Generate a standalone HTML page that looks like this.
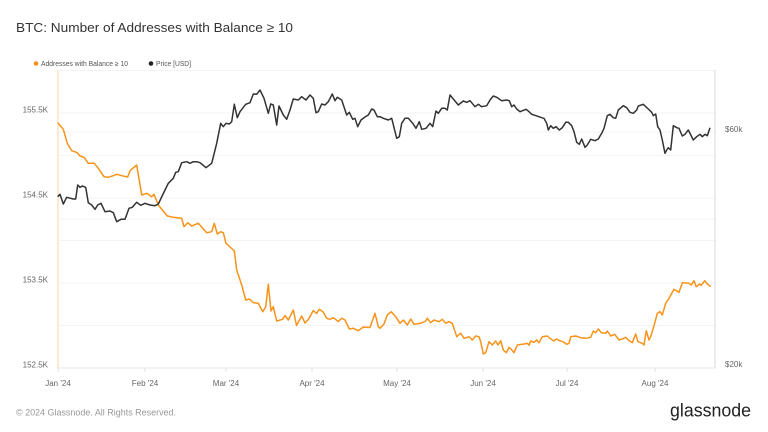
<!DOCTYPE html>
<html><head><meta charset="utf-8"><style>
html,body{margin:0;padding:0;background:#fff;}
svg{display:block;}
text{font-family:"Liberation Sans",sans-serif;}
</style></head><body>
<svg width="768" height="432" viewBox="0 0 768 432" xmlns="http://www.w3.org/2000/svg">
<rect width="768" height="432" fill="#fff"/>
<text x="16" y="32" font-size="13" fill="#333" textLength="277" lengthAdjust="spacingAndGlyphs">BTC: Number of Addresses with Balance ≥ 10</text>
<circle cx="36" cy="63.5" r="2.3" fill="#f7931a"/>
<text x="41" y="66" font-size="7" fill="#555" textLength="87" lengthAdjust="spacingAndGlyphs">Addresses with Balance ≥ 10</text>
<circle cx="151" cy="63.5" r="2.3" fill="#222"/>
<text x="156" y="66" font-size="7" fill="#555" textLength="35" lengthAdjust="spacingAndGlyphs">Price [USD]</text>
<g stroke="#f3f3f3" stroke-width="1">
<line x1="58" y1="70.5" x2="715" y2="70.5"/>
<line x1="58" y1="113" x2="715" y2="113"/>
<line x1="58" y1="155.5" x2="715" y2="155.5"/>
<line x1="58" y1="198" x2="715" y2="198"/>
<line x1="58" y1="240.5" x2="715" y2="240.5"/>
<line x1="58" y1="283" x2="715" y2="283"/>
<line x1="58" y1="325.5" x2="715" y2="325.5"/>
<line x1="58" y1="132" x2="715" y2="132"/>
<line x1="58" y1="219" x2="715" y2="219"/>
</g>
<line x1="58" y1="368" x2="715" y2="368" stroke="#e6e6e6" stroke-width="1"/>
<line x1="58" y1="70" x2="58" y2="368" stroke="#fde3c4" stroke-width="1.5"/>
<line x1="715" y1="70" x2="715" y2="368" stroke="#d8d8d8" stroke-width="1"/>
<g stroke="#e0e0e0" stroke-width="1">
<line x1="58" y1="368" x2="58" y2="372"/>
<line x1="145" y1="368" x2="145" y2="372"/>
<line x1="226" y1="368" x2="226" y2="372"/>
<line x1="312" y1="368" x2="312" y2="372"/>
<line x1="397" y1="368" x2="397" y2="372"/>
<line x1="483" y1="368" x2="483" y2="372"/>
<line x1="567" y1="368" x2="567" y2="372"/>
<line x1="655" y1="368" x2="655" y2="372"/>
</g>
<g font-size="8" fill="#666" text-anchor="end">
<text x="48" y="112.5">155.5K</text>
<text x="48" y="197.5">154.5K</text>
<text x="48" y="282.5">153.5K</text>
<text x="48" y="367.5">152.5K</text>
</g>
<g font-size="8" fill="#666">
<text x="725" y="132">$60k</text>
<text x="725" y="367">$20k</text>
</g>
<g font-size="8" fill="#666" text-anchor="middle">
<text x="58" y="386">Jan '24</text>
<text x="145" y="386">Feb '24</text>
<text x="226" y="386">Mar '24</text>
<text x="312" y="386">Apr '24</text>
<text x="397" y="386">May '24</text>
<text x="483" y="386">Jun '24</text>
<text x="567" y="386">Jul '24</text>
<text x="655" y="386">Aug '24</text>
</g>
<polyline fill="none" stroke="#f7931a" stroke-width="1.5" stroke-linejoin="round" points="57.7,122.7 63.3,129.3 67.3,143.3 71.7,150.7 77.3,152.7 80,156 84,157.3 88.3,163.3 94.3,163.3 98.3,168.3 104,176.7 108.3,177.3 113.3,175.7 116.7,174.3 121.7,175.7 127.7,177 130,170.7 136.7,165 141.7,195 146.7,193.3 151.7,196.7 154,194.3 158.3,205 167.3,216 173.3,217.3 181.7,218.3 184,226.7 187.7,222.7 191.7,226 198.3,223.3 206.7,232.7 211.7,231.7 214.3,223.3 217.3,234 220.7,231.7 223.3,232.7 226,243.3 233.3,250 234.3,250.7 236.7,270 241.7,285 245.7,300 249.3,299 253.3,302.7 258.3,303.3 262.7,311.7 265.7,306.7 268.3,284.3 271,311 273.3,306.7 276.7,321 282.7,319.3 285,315.5 288.3,320 293.3,310 296.5,325.5 301.7,316 305,323 308.3,319.5 313.3,310.5 316.5,313.5 319.3,309.3 323,311.7 326.7,318.3 330,319.3 333.3,317.7 338.3,321.5 341.7,318.3 345,320 349.3,329 353.3,328.3 358.3,330.7 363.3,327 370,327.5 375,313.3 378.3,326.7 380,328.3 384,324 387.3,315 391.3,311.7 395.7,316.7 400,323.3 403.3,320 407.3,325 410.7,319 414,324.3 420.7,323.3 425.7,321 427.3,318.3 430.7,322.7 434,320 439,321.7 442.3,319.3 445.7,323.3 449,321.7 452.3,323.3 456.7,336.7 460.7,333.3 464,338.3 469,336.7 472.3,340 475.7,336 479,336.7 480.7,341.7 483.3,354 485.7,352.7 489,341.7 492.3,345 495.7,341 498,345 500.7,340.7 503.3,350 506.3,352.7 509,347.3 511.3,349.3 514,352.7 517.3,345 524,344 527.3,343.3 529,345.3 530.7,341 534,342.3 536.7,340 539,342.7 542.3,336.7 547.3,336 550.7,339 554,341 556.3,339 559.7,340.7 563,341.7 566.7,344.3 569,343.3 570.7,336.7 575.7,336 580.7,337.7 585.7,338.3 590.7,337.3 593.3,331 595.7,332.7 598.3,329 601.3,332.7 605.7,333.3 607.3,331 610.7,336 614.7,334.3 619,340 622.3,339 625.7,337.3 628.3,340 632.3,342.7 635.7,334 638,341.7 642.3,343.3 644,345 646.3,330.7 649,340 650.7,336.7 654.7,323.3 657.3,313.3 660,311.7 662.3,315 665.7,303.3 669,298.3 674,289.3 679,292.3 682.3,282.7 689,283.3 691.3,285 694,280.7 696.3,286.7 699.7,284 701.3,285.3 704.7,280.7 707.3,284 710.7,286.7"/>
<polyline fill="none" stroke="#333" stroke-width="1.5" stroke-linejoin="round" points="57.7,196.7 60,194.3 63.3,204 66.7,197.3 73.3,199 75.7,199 77.7,185 80,187.3 82.3,186 85.7,187.3 88.3,202.7 91.7,205 95,209.3 97.7,205 101,203.3 105,211.7 110,211 113.3,212.7 116.7,221.7 121,219.3 125,219.3 129,208.3 132.3,207.3 136.7,202.3 140.7,205.3 145,203.3 150,205 155,205.7 158.3,204 165,190 168.3,183.3 173.3,178.3 175.7,172.3 178.3,171.7 181.7,162.7 186.7,161.7 190,163.3 193.3,161.7 196.7,161.7 200,162.7 206,167.7 211.7,163.3 216.7,143.3 220.7,123.3 223.3,126.7 226,123.3 229.3,124 231.7,121.7 234.3,104.3 237.3,117.7 240,111.7 245.7,104.3 250,102.7 253.3,94 256.7,94.3 260,90 264,98.3 268.3,113.3 270.7,104 273.3,105 276.7,125 279,106 283.3,115 286.7,119.3 290,110 293.3,99 298.3,100 301.7,96.7 306,100 310,95 313.3,98.3 316,112.7 318.3,111.7 321.7,104 325,105 328.3,101.7 332.3,94 335,100.7 337.3,97.3 341.7,100 346.7,115 349.3,112.3 352.7,119.3 355,118.3 357.7,126.7 361,120 365,117 368.3,115 371.7,109 374,110 377.3,116.7 380,116.7 383.3,118.3 388.3,120 391.7,118.3 396.7,138.3 399.3,136.7 401.7,123.3 405,118.3 408.3,118.3 412.7,123.3 416,128.3 419.3,121.7 421.7,129.3 426,128.3 430,123.3 432.7,126.7 436,111 438.3,113.3 441.7,108.3 445,108.3 447.3,110 450,95 453.3,99 458.3,105 463.3,101 466.7,102.3 470,100.7 475,106.7 478.3,104.3 481.7,106.7 486.7,105.7 490,100 493.3,96 496.7,97.3 501.7,100.7 506.7,100 509.3,100.7 511.7,106.7 514,105 516.7,109 520,111.7 526,109.3 528.3,111 531.7,114.3 536,115.7 541.7,117.7 544,118.3 546.7,123.3 548.3,130 550.7,125.7 553.3,128.3 556,126.7 559.3,130 562.3,127.7 565.7,122.3 568.3,122.3 571.7,125.7 574,131.7 576.7,142.3 579.3,144.3 581.7,139 585,147.3 587.3,145 590.7,139.3 595,140.7 598.3,139 601.7,133.3 604,128.3 607.3,115.7 610,114.3 613.3,117.7 615.7,118.3 618.3,110 623.3,105.7 626.7,107.7 630,112.3 633.3,113.3 636.7,110 638.3,106 643.3,104.3 648.3,109 651.7,112.3 653.3,115.7 655.7,114 657.7,126.7 660,130 662.3,140 665,153.3 666.7,150 668.3,147.7 670.7,150 673.3,125.7 676.7,127.7 679,128.3 682.3,136 685,134.3 688.3,130 693.3,140 696.7,136.7 700,134.3 702.3,136.7 705,134.3 707.3,135.7 710,127.7"/>
<text x="16" y="415.5" font-size="9" fill="#999" textLength="160" lengthAdjust="spacingAndGlyphs">© 2024 Glassnode. All Rights Reserved.</text>
<text x="670" y="416.5" font-size="18" fill="#222" textLength="81" lengthAdjust="spacingAndGlyphs">glassnode</text>
</svg>
</body></html>
